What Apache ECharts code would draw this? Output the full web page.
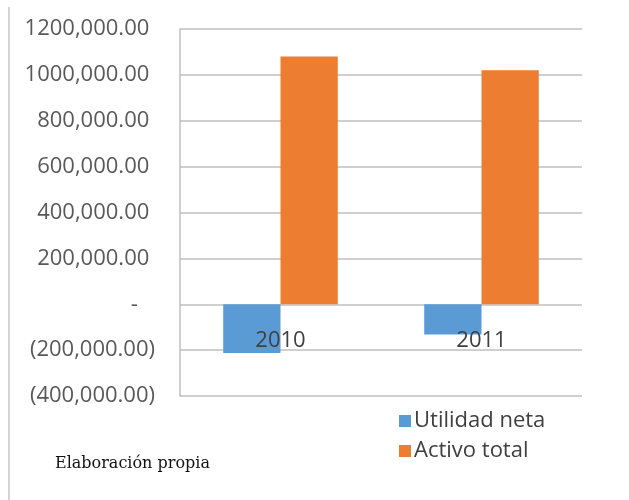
<!DOCTYPE html>
<html>
<head>
<meta charset="utf-8">
<script src="https://cdn.jsdelivr.net/npm/echarts@6/dist/echarts.min.js"></script>
<style>
  html, body { margin: 0; padding: 0; background: #fff; }
  #chart { width: 629px; height: 500px; }
</style>
</head>
<body>
<div id="chart"></div>
<script>
// datos
const years = ['2010', '2011'];
const utilidadNeta = [-212000, -132000];
const activoTotal = [1080000, 1020000];
const yMin = -400000;
const yMax = 1200000;
const yStep = 200000;
// etiquetas del eje Y en formato contable (de min a max)
const yTickLabels = ['(400,000.00)', '(200,000.00)', '-   ', '200,000.00 ', '400,000.00 ',
  '600,000.00 ', '800,000.00 ', '1000,000.00 ', '1200,000.00 '];

const chart = echarts.init(document.getElementById('chart'));
const labelFont = 'Open Sans';

const option = {
  animation: false,
  grid: { left: 180, right: 47, top: 29, bottom: 104 },
  title: {
    text: 'Elaboración propia',
    left: 50,
    top: 451,
    textStyle: { fontFamily: 'DejaVu Serif', fontSize: 16, fontWeight: 'normal', color: '#111' }
  },
  legend: {
    orient: 'vertical',
    left: 394,
    top: 405,
    itemWidth: 12,
    itemHeight: 12,
    itemGap: 8,
    icon: 'rect',
    textStyle: { fontFamily: labelFont, fontSize: 22, color: '#404040', padding: [0, 0, 0, -2] },
    data: ['Utilidad neta', 'Activo total']
  },
  xAxis: {
    type: 'category',
    data: years,
    z: 5,
    axisLine: { show: false, onZero: false },
    axisTick: { show: false },
    // las etiquetas de año quedan justo debajo de la línea del cero
    axisLabel: { margin: -66, fontFamily: labelFont, fontSize: 22, color: '#404040' },
    splitLine: { show: false }
  },
  yAxis: {
    type: 'value',
    min: yMin,
    max: yMax,
    interval: yStep,
    axisLine: { show: true, lineStyle: { color: '#bfbfbf', width: 1.5 } },
    axisTick: { show: false },
    axisLabel: {
      margin: 25,
      fontFamily: labelFont,
      fontSize: 22,
      color: '#595959',
      formatter: v => yTickLabels[Math.round((v - yMin) / yStep)]
    },
    splitLine: { lineStyle: { color: '#bfbfbf', width: 1.5 } }
  },
  series: [
    {
      name: 'Utilidad neta',
      type: 'bar',
      data: utilidadNeta,
      barGap: '0%',
      barCategoryGap: '43%',
      itemStyle: { color: '#5b9bd5' }
    },
    {
      name: 'Activo total',
      type: 'bar',
      data: activoTotal,
      itemStyle: { color: '#ed7d31' }
    }
  ],
  graphic: [
    {
      type: 'line',
      shape: { x1: 9, y1: 7, x2: 9, y2: 500 },
      style: { stroke: '#d4d4d4', lineWidth: 2 }
    }
  ]
};

chart.setOption(option);
</script>
</body>
</html>
